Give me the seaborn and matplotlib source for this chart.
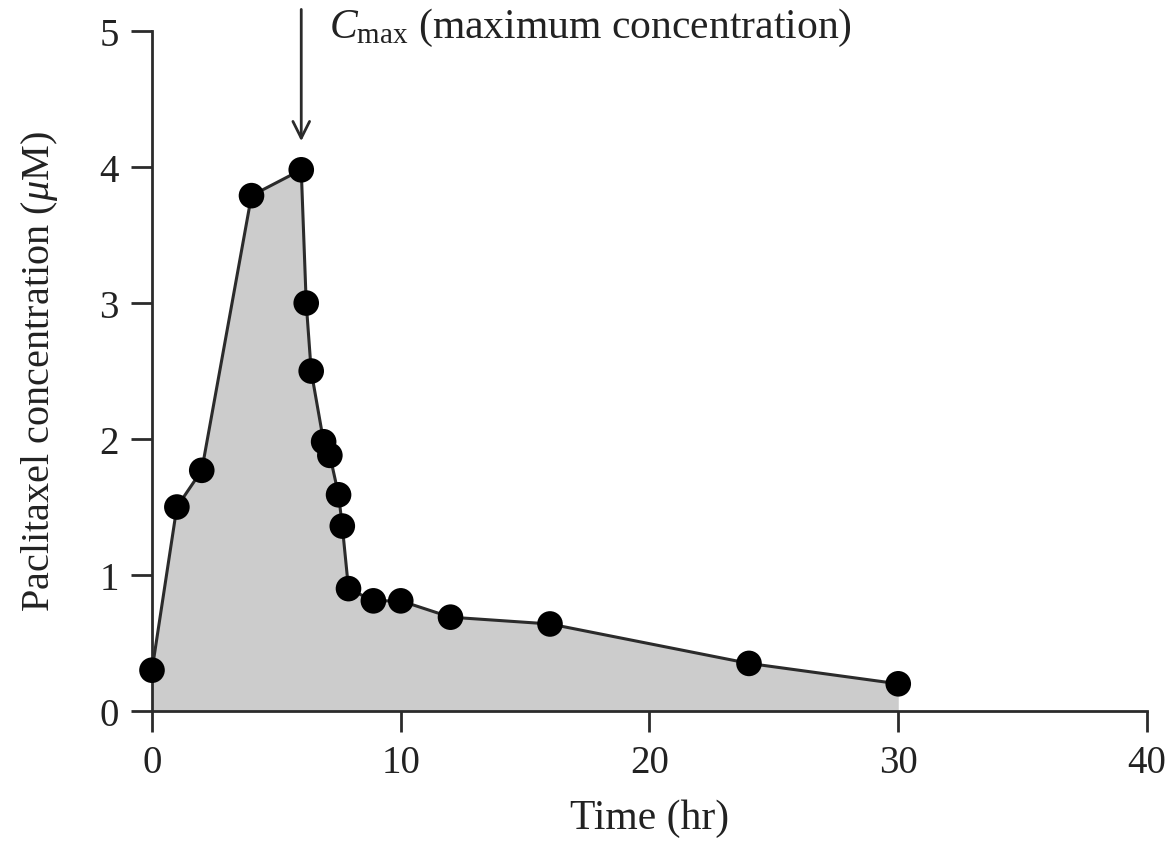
import matplotlib
matplotlib.use("Agg")
import matplotlib.pyplot as plt
import seaborn as sns
import pandas as pd
import numpy as np

time_hr = [0, 1, 2, 4, 6, 6.2, 6.4, 6.9, 7.15, 7.5, 7.65, 7.9, 8.9, 10, 12, 16, 24, 30]
conc_uM = [0.3, 1.5, 1.77, 3.79, 3.98, 3.0, 2.5, 1.98, 1.88, 1.59, 1.36, 0.9, 0.81, 0.81, 0.69, 0.64, 0.35, 0.2]
x_ticks = [0, 10, 20, 30, 40]
y_ticks = [0, 1, 2, 3, 4, 5]

df = pd.DataFrame({"time": time_hr, "conc": conc_uM})

sns.set_theme(style="ticks")
plt.rcParams["font.family"] = ["Liberation Serif", "DejaVu Serif"]
plt.rcParams["mathtext.fontset"] = "custom"
plt.rcParams["mathtext.rm"] = "Liberation Serif"
plt.rcParams["mathtext.it"] = "Liberation Serif:italic"

fig = plt.figure(figsize=(11.71, 8.45), dpi=100)
ax = fig.add_axes([0.1298, 0.1574, 0.8497, 0.8046])

ax.fill_between(df["time"], 0, df["conc"], color="#cccccc", linewidth=0, zorder=1)
sns.lineplot(data=df, x="time", y="conc", ax=ax, color="#2b2b2b", linewidth=2.2,
             sort=False, estimator=None, zorder=2)
sns.scatterplot(data=df, x="time", y="conc", ax=ax, color="black", s=340,
                edgecolor="none", zorder=3, clip_on=False)

ax.set_xlim(0, 40)
ax.set_ylim(0, 5)
ax.set_xticks(x_ticks)
ax.set_yticks(y_ticks)
for s in ["top", "right"]:
    ax.spines[s].set_visible(False)
for s in ["left", "bottom"]:
    ax.spines[s].set_linewidth(2)
    ax.spines[s].set_color("#2b2b2b")
ax.tick_params(axis="both", direction="out", length=15, width=2, color="#2b2b2b",
               labelsize=28, pad=9, labelcolor="#222222")

ax.set_xlabel("Time (hr)", fontsize=30, color="#222222", labelpad=12)
ax.set_ylabel(r"Paclitaxel concentration ($\mu$M)", fontsize=29, color="#222222", labelpad=28)

ax.annotate("", xy=(6, 4.17), xytext=(6, 5.18),
            arrowprops=dict(arrowstyle="->", color="#2b2b2b", lw=2, mutation_scale=30),
            annotation_clip=False)
ax.text(7.1, 5.03, r"$C_{\mathrm{max}}$ (maximum concentration)", fontsize=30,
        color="#222222", va="center", ha="left", clip_on=False)

fig.savefig("out.png", dpi=100)
